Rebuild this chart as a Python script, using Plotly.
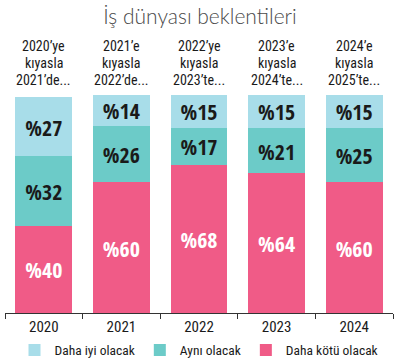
import plotly.graph_objects as go

years = ["2020", "2021", "2022", "2023", "2024"]
headers = [
    ["2020’ye", "kıyasla", "2021’de..."],
    ["2021’e", "kıyasla", "2022’de..."],
    ["2022’ye", "kıyasla", "2023’te..."],
    ["2023’e", "kıyasla", "2024’te..."],
    ["2024’e", "kıyasla", "2025’te..."],
]
worse = [40, 60, 68, 64, 60]
same = [32, 26, 17, 21, 25]
better = [27, 14, 15, 15, 15]
series_names = ["Daha iyi olacak", "Aynı olacak", "Daha kötü olacak"]

NARROW = "Roboto Condensed, sans-serif"
BOLDN = "Open Sans Condensed, Roboto Condensed, sans-serif"

fig = go.Figure()
for name, vals, col, tcol in [
    (series_names[2], worse, "#f05b87", "white"),
    (series_names[1], same, "#6ccbc8", "#1a1a1a"),
    (series_names[0], better, "#a8dde9", "#1a1a1a"),
]:
    fig.add_trace(go.Bar(
        x=years, y=vals, name=name, marker=dict(color=col, line=dict(width=0)),
        text=["%" + str(v) for v in vals], textposition="inside",
        insidetextanchor="middle", textangle=0, constraintext="none",
        textfont=dict(family=BOLDN, size=22, color=tcol, weight="bold"),
    ))

annotations = []
for idx, lines in enumerate(headers):
    for i, ln in enumerate(lines):
        annotations.append(dict(
            x=idx, xref="x", y=1, yref="paper", yanchor="middle",
            yshift=(95 - 46) - i * 17, text=ln, showarrow=False,
            font=dict(family=NARROW, size=14, color="#1a1a1a"),
        ))

fig.update_layout(
    width=400, height=363,
    margin=dict(l=5, r=7, t=95, b=50, autoexpand=False),
    paper_bgcolor="white", plot_bgcolor="white",
    barmode="stack", bargap=0.27,
    title=dict(text="İş dünyası beklentileri", x=0.5, xanchor="center",
               y=1 - 17 / 363, yanchor="middle", yref="container",
               font=dict(family="Lato, sans-serif", size=21, color="#4a4a4a", weight=300)),
    xaxis=dict(type="category", showline=True, linecolor="#333333", linewidth=1,
               ticks="outside", tickson="boundaries", ticklen=5, tickcolor="#333333",
               tickfont=dict(family=NARROW, size=15, color="#1a1a1a"),
               showgrid=False, fixedrange=True, range=[-0.5, 4.5]),
    yaxis=dict(range=[0, 100], visible=False, fixedrange=True),
    legend=dict(orientation="h", x=0.5, xanchor="center", y=-0.1, yanchor="top",
                traceorder="reversed", font=dict(family=NARROW, size=13.5, color="#1a1a1a"),
                itemwidth=30),
    showlegend=True,
    annotations=annotations,
)

fig.write_html("out.html")
